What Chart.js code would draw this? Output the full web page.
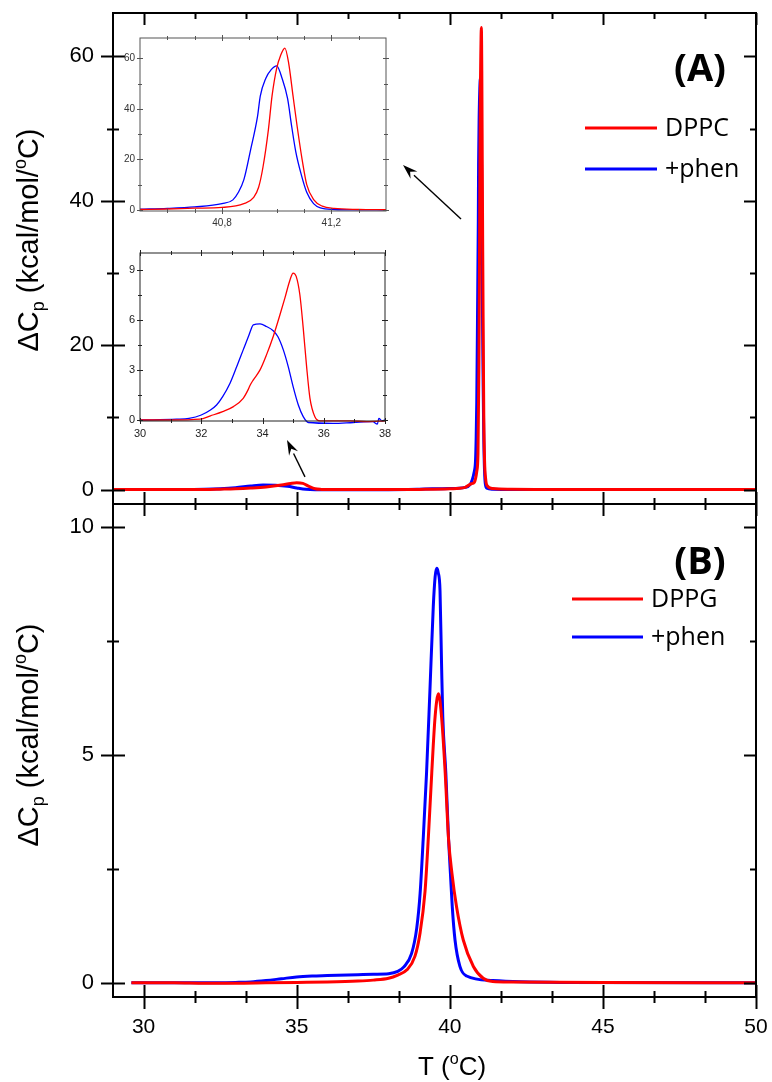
<!DOCTYPE html>
<html><head><meta charset="utf-8">
<script src="https://cdn.jsdelivr.net/npm/chart.js@4.4.1/dist/chart.umd.min.js"></script>
<style>
html,body{margin:0;padding:0;background:#fff;overflow:hidden}
#wrap{position:relative;width:772px;height:1082px;background:#fff}
canvas{position:absolute;display:block}
</style></head><body>
<div id="wrap">
<canvas id="cB" style="left:0;top:480px;width:772px;height:602px" width="772" height="602"></canvas>
<canvas id="cA" style="left:0;top:0;width:772px;height:530px" width="772" height="530"></canvas>
<canvas id="cI1" style="left:100px;top:25px;width:300px;height:210px" width="300" height="210"></canvas>
<canvas id="cI2" style="left:100px;top:240px;width:300px;height:205px" width="300" height="205"></canvas>
</div>
<script>
// ---------- DATA ----------
// Panel A (DPPC)
const aRedT  = [29.0,30,31,32,32.5,33,33.5,34,34.5,34.8,35.0,35.2,35.4,35.6,35.8,36,37,38,39,40,40.5,40.7,40.8,40.88,40.92,40.95,40.97,40.985,41.0,41.015,41.03,41.045,41.06,41.075,41.093,41.11,41.135,41.17,41.21,41.4,42,43,45,50];
const aRedCp = [0,0,0,0.01,0.05,0.1,0.2,0.35,0.62,0.85,0.95,0.85,0.45,0.12,0.02,0,0,0,0.02,0.1,0.3,0.8,1,2.5,5,17,32,45,56,61,64,58,45,33,20,10,4,1.5,0.6,0.15,0.05,0.02,0,0];
const aBlueT  = [29.55,31,31.5,32,32.5,33,33.5,33.9,34.3,34.7,35.0,35.3,35.6,36,38,39,40,40.5,40.8,40.84,40.86,40.88,40.905,40.93,40.94,40.96,40.98,41.0,41.02,41.04,41.055,41.07,41.09,41.11,41.135,41.16,41.21,41.4,42,50];
const aBlueCp = [0,0,0.01,0.03,0.1,0.25,0.5,0.64,0.6,0.45,0.22,0.03,-0.02,-0.02,-0.01,0.05,0.15,0.3,2.5,4,7,12,24,37,45,52,55.5,57,52,44,33,23,14,7,2.5,0.8,0.2,0.05,0,0];
// Inset 1 (main transition)
const i1RedT  = [40.5,40.6,40.7,40.8,40.88,40.916,40.934,40.95,40.97,40.983,41.0,41.014,41.03,41.044,41.06,41.075,41.093,41.11,41.136,41.167,41.21,41.3,41.4];
const i1RedCp = [0.2,0.4,0.7,1,2.5,5,9,17,32,45,56,61,64,58,45,33,20,10,4,1.5,0.6,0.2,0.1];
const i1BlueT  = [40.5,40.6,40.7,40.8,40.84,40.86,40.88,40.905,40.93,40.94,40.96,40.98,41.0,41.02,41.04,41.055,41.07,41.09,41.11,41.135,41.16,41.21,41.3,41.4];
const i1BlueCp = [0.3,0.6,1.2,2.5,4,7,12,24,37,45,52,55.5,57,52,44,33,23,14,7,2.5,0.8,0.2,0.05,0];
// Inset 2 (pretransition)
const i2RedT  = [30,31,31.96,32.3,32.7,33.05,33.37,33.54,33.6,33.7,33.92,34.13,34.35,34.57,34.73,34.9,35.0,35.1,35.22,35.33,35.44,35.55,35.71,35.88,36.86,37.4,38];
const i2RedCp = [0,0,0.05,0.25,0.5,0.8,1.3,1.85,2.1,2.4,3.0,3.9,5.0,6.3,7.3,8.4,8.8,8.6,7.5,5.5,3.2,1.3,0.2,-0.05,-0.05,-0.1,-0.05];
const i2BlueT  = [30,31.2,31.6,32.0,32.3,32.5,32.7,32.94,33.16,33.37,33.54,33.6,33.7,33.92,34.13,34.35,34.5,34.68,34.84,35.0,35.17,35.33,35.5,36.3,36.96,37.6,37.75,37.8,37.9,38];
const i2BlueCp = [0,0.05,0.1,0.3,0.6,0.9,1.4,2.2,3.2,4.2,5.0,5.3,5.7,5.75,5.6,5.35,5.0,4.2,3.2,2.0,0.9,0.2,-0.15,-0.2,-0.15,-0.1,-0.25,0.1,-0.05,0];
// Panel B (DPPG)
const bRedT  = [29.6,31,32,33,34,35,36,37,37.5,38,38.3,38.59,38.86,39.03,39.19,39.3,39.41,39.52,39.63,39.73,39.85,39.96,40.07,40.22,40.44,40.77,41.09,41.4,42,45,50];
const bRedCp = [0,0,-0.01,-0.01,0,0.01,0.02,0.04,0.06,0.1,0.17,0.28,0.58,1.1,2.0,3.2,4.6,5.84,6.34,5.84,4.6,3.14,2.4,1.67,0.94,0.36,0.1,0.03,0.02,0.01,0];
const bBlueT  = [29.6,31,32,33,33.5,34,34.5,35,35.5,36,37,37.5,38,38.3,38.5,38.75,38.92,39.03,39.13,39.24,39.35,39.46,39.52,39.57,39.62,39.68,39.73,39.77,39.87,39.96,40.02,40.08,40.17,40.33,40.55,41.4,43.6,50];
const bBlueCp = [0,0,0,0.01,0.02,0.05,0.09,0.13,0.15,0.16,0.18,0.19,0.2,0.25,0.35,0.64,1.2,1.96,3.14,4.6,6.4,8.25,8.9,9.09,9.0,8.6,7.0,5.84,4.6,3.14,2.4,1.67,0.94,0.36,0.15,0.05,0.01,0];

// Tick values / labels
const mainXMajor = [30,35,40,45,50];
const mainXMinor = [31.667,33.333,36.667,38.333,41.667,43.333,46.667,48.333];
const mainXLabels = ['30','35','40','45','50'];
const aYMajor = [0,20,40,60];
const aYMinor = [10,30,50];
const aYLabels = ['0','20','40','60'];
const bYMajor = [0,5,10];
const bYMinor = [2.5,7.5];
const bYLabels = ['0','5','10'];
const i1XMajor = [40.8,41.2];
const i1XMinor = [40.6,40.7,40.9,41.0,41.1,41.3];
const i1XLabels = ['40,8','41,2'];
const i1YMajor = [0,20,40,60];
const i1YMinor = [10,30,50];
const i1YLabels = ['0','20','40','60'];
const i2XMajor = [30,32,34,36,38];
const i2XMinor = [31,33,35,37];
const i2XLabels = ['30','32','34','36','38'];
const i2YMajor = [0,3,6,9];
const i2YMinor = [1.5,4.5,7.5];
const i2YLabels = ['0','3','6','9'];

const seriesA = ['DPPC','+phen'];
const seriesB = ['DPPG','+phen'];

// ---------- STYLE / HELPERS ----------
const SANS = "'Liberation Sans', Arial, sans-serif";
const OPEN = "'Open Sans', 'Liberation Sans', sans-serif";
const RED = '#ff0000', BLUE = '#0000ff';
Chart.defaults.font.family = SANS;
Chart.defaults.color = '#000';
Chart.defaults.animation = false;

function ds(label, xs, ys, color, w){
  return {label, data: xs.map((x,i)=>({x, y: ys[i]})), borderColor: color, backgroundColor: color,
    borderWidth: w, pointRadius: 0, fill: false, cubicInterpolationMode: 'monotone', clip: false};
}
function noPad(s){ s.paddingTop = 0; s.paddingBottom = 0; s.paddingLeft = 0; s.paddingRight = 0; }
function xAxis(min,max,show,ticks,labels,size,color,h,pad){
  return {type:'linear', min, max, display: show,
    afterFit: s=>{ s.height = h; noPad(s); },
    afterBuildTicks: s=>{ s.ticks = ticks.map(v=>({value:v})); },
    grid:{display:false, drawTicks:false}, border:{display:false},
    ticks:{autoSkip:false, maxRotation:0, padding:pad, color, font:{size}, callback:(v,i)=>labels[i]}};
}
function yAxis(min,max,ticks,labels,size,color,w,pad){
  return {type:'linear', min, max,
    afterFit: s=>{ s.width = w; noPad(s); },
    afterBuildTicks: s=>{ s.ticks = ticks.map(v=>({value:v})); },
    grid:{display:false, drawTicks:false}, border:{display:false},
    ticks:{autoSkip:false, padding:pad, color, font:{size}, callback:(v,i)=>labels[i]}};
}

const framePlugin = {
  id: 'frame',
  afterDatasetsDraw(chart, args, o){
    const {ctx, chartArea:a} = chart; const xs = chart.scales.x, ys = chart.scales.y;
    ctx.save();
    ctx.strokeStyle = o.color; ctx.lineCap = 'butt';
    const seg=(x1,y1,x2,y2)=>{ctx.beginPath();ctx.moveTo(x1,y1);ctx.lineTo(x2,y2);ctx.stroke();};
    const S = o.sides;
    const doX=(vals,len)=>vals.forEach(v=>{const p=Math.round(xs.getPixelForValue(v))+0.5;
      if(p<a.left-1||p>a.right+1) return;
      if(S.bottom) seg(p, a.bottom - S.bottom[0]*len, p, a.bottom + S.bottom[1]*len);
      if(S.top) seg(p, a.top + S.top[0]*len, p, a.top - S.top[1]*len);});
    const doY=(vals,len)=>vals.forEach(v=>{const p=Math.round(ys.getPixelForValue(v))+0.5;
      if(S.left) seg(a.left + S.left[0]*len, p, a.left - S.left[1]*len, p);
      if(S.right) seg(a.right - S.right[0]*len, p, a.right + S.right[1]*len, p);});
    ctx.lineWidth = o.tickWidth;
    doX(o.xMajor,o.major); doX(o.xMinor,o.minor); doY(o.yMajor,o.major); doY(o.yMinor,o.minor);
    ctx.lineWidth = o.frameWidth;
    ctx.strokeRect(a.left, a.top, a.right-a.left, a.bottom-a.top);
    ctx.restore();
  }
};

function richWidth(ctx, parts, size, fam){
  let w = 0;
  parts.forEach(p=>{ const s = (p.sub||p.sup)? size*0.62 : size; ctx.font = s+'px '+fam; w += ctx.measureText(p.t).width; });
  return w;
}
function drawRich(ctx, parts, size, fam, x0, y0){
  let x = x0;
  parts.forEach(p=>{
    const s = (p.sub||p.sup)? size*0.62 : size;
    const dy = p.sub ? size*0.2 : (p.sup ? -size*0.42 : 0);
    ctx.font = s+'px '+fam; ctx.fillText(p.t, x, y0+dy); x += ctx.measureText(p.t).width;
  });
}
const yTitleParts = [{t:'\u0394C'},{t:'p',sub:true},{t:' (kcal/mol/'},{t:'o',sup:true},{t:'C)'}];
const xTitleParts = [{t:'T ('},{t:'o',sup:true},{t:'C)'}];

const annotPlugin = {
  id: 'annot',
  afterDraw(chart, args, o){
    const ctx = chart.ctx; const oy = o.offY || 0;
    ctx.save(); ctx.fillStyle = '#000'; ctx.textBaseline = 'alphabetic'; ctx.textAlign = 'left';
    if (o.yTitle){
      const w = richWidth(ctx, yTitleParts, o.yTitle.size, SANS);
      ctx.save(); ctx.translate(o.yTitle.x, o.yTitle.y - oy); ctx.rotate(-Math.PI/2);
      drawRich(ctx, yTitleParts, o.yTitle.size, SANS, -w/2, 0); ctx.restore();
    }
    if (o.xTitle){
      const w = richWidth(ctx, xTitleParts, o.xTitle.size, SANS);
      drawRich(ctx, xTitleParts, o.xTitle.size, SANS, o.xTitle.x - w/2, o.xTitle.y - oy);
    }
    if (o.legend){
      const L = o.legend;
      L.rows.forEach(r=>{
        const d = chart.data.datasets[r.i];
        ctx.strokeStyle = d.borderColor; ctx.lineWidth = 3;
        ctx.beginPath(); ctx.moveTo(L.x0, r.y - oy); ctx.lineTo(L.x1, r.y - oy); ctx.stroke();
        ctx.fillStyle = '#000'; ctx.font = L.size+'px '+OPEN; ctx.textBaseline = 'middle';
        ctx.fillText(d.label, L.tx, r.y - oy + 1);
      });
    }
    if (o.label){
      ctx.fillStyle = '#000'; ctx.font = 'bold '+o.label.size+'px '+OPEN; ctx.textAlign = 'center'; ctx.textBaseline = 'middle';
      ctx.fillText(o.label.text, o.label.x, o.label.y - oy);
    }
    if (o.arrows){
      const xs = chart.scales.x, ys = chart.scales.y;
      o.arrows.forEach(ar=>{
        const x1 = xs.getPixelForValue(ar.from[0]), y1 = ys.getPixelForValue(ar.from[1]);
        const x2 = xs.getPixelForValue(ar.to[0]), y2 = ys.getPixelForValue(ar.to[1]);
        const ang = Math.atan2(y2-y1, x2-x1), hl = 15, hw = 5;
        const bx = x2 - hl*Math.cos(ang), by = y2 - hl*Math.sin(ang);
        ctx.strokeStyle = '#000'; ctx.lineWidth = 1.4;
        ctx.beginPath(); ctx.moveTo(x1,y1); ctx.lineTo(bx,by); ctx.stroke();
        ctx.fillStyle = '#000'; ctx.beginPath(); ctx.moveTo(x2,y2);
        ctx.lineTo(bx + hw*Math.sin(ang), by - hw*Math.cos(ang));
        ctx.lineTo(bx + 0.35*hl*Math.cos(ang), by + 0.35*hl*Math.sin(ang));
        ctx.lineTo(bx - hw*Math.sin(ang), by + hw*Math.cos(ang));
        ctx.closePath(); ctx.fill();
      });
    }
    ctx.restore();
  }
};

function makeChart(id, datasets, scales, padding, frame, annot){
  return new Chart(document.getElementById(id), {
    type: 'line',
    data: { datasets },
    options: { responsive:false, devicePixelRatio:1, animation:false, parsing:false,
      layout:{padding}, scales,
      plugins:{ legend:{display:false}, tooltip:{enabled:false}, frame, annot: annot||{} } },
    plugins: [framePlugin, annotPlugin]
  });
}

// ---------- Panel A ----------
makeChart('cA',
  [ds(seriesA[0], aRedT, aRedCp, RED, 3), ds(seriesA[1], aBlueT, aBlueCp, BLUE, 3)],
  { x: xAxis(29,50,false,mainXMajor,mainXLabels,21,'#000',0,0),
    y: yAxis(-2,66,aYMajor,aYLabels,22,'#000',113,19) },
  {left:0, top:13, right:16, bottom:26},
  {color:'#000', frameWidth:2, tickWidth:2, major:12, minor:6,
   xMajor:mainXMajor, xMinor:mainXMinor, yMajor:aYMajor, yMinor:aYMinor,
   sides:{bottom:[1,1], top:[1,0], left:[1,1], right:[1,0]}},
  { yTitle:{x:38, y:240, size:29},
    legend:{x0:585, x1:657, tx:665, size:25, rows:[{i:0,y:128},{i:1,y:169}]},
    label:{text:'(A)', x:700, y:70, size:38},
    arrows:[{from:[40.366,37.48], to:[38.471,44.95]}, {from:[35.27,1.75], to:[34.683,6.87]}] }
);

// ---------- Panel B ----------
makeChart('cB',
  [ds(seriesB[0], bRedT, bRedCp, RED, 3), ds(seriesB[1], bBlueT, bBlueCp, BLUE, 3)],
  { x: xAxis(29,50,true,mainXMajor,mainXLabels,21,'#000',85,18),
    y: yAxis(-0.31,10.5,bYMajor,bYLabels,22,'#000',113,19) },
  {left:0, top:24, right:16, bottom:0},
  {color:'#000', frameWidth:2, tickWidth:2, major:12, minor:6,
   xMajor:mainXMajor, xMinor:mainXMinor, yMajor:bYMajor, yMinor:bYMinor,
   sides:{bottom:[1,1], top:null, left:[1,1], right:[1,0]}},
  { offY:480, yTitle:{x:38, y:735, size:29}, xTitle:{x:452, y:1075, size:26},
    legend:{x0:572, x1:643, tx:651, size:25, rows:[{i:0,y:599},{i:1,y:637}]},
    label:{text:'(B)', x:700, y:563, size:38} }
);

// ---------- Inset 1 ----------
makeChart('cI1',
  [ds(seriesA[0], i1RedT, i1RedCp, RED, 1.3), ds(seriesA[1], i1BlueT, i1BlueCp, BLUE, 1.3)],
  { x: xAxis(40.5,41.4,true,i1XMajor,i1XLabels,10,'#333',24,6),
    y: yAxis(-0.4,68,i1YMajor,i1YLabels,10,'#333',40,5) },
  {left:0, top:13, right:14, bottom:0},
  {color:'#555', frameWidth:1, tickWidth:1, major:3, minor:2,
   xMajor:i1XMajor, xMinor:i1XMinor, yMajor:i1YMajor, yMinor:i1YMinor,
   sides:{bottom:[1,1], top:[1,1], left:[1,1], right:[1,1]}}
);

// ---------- Inset 2 ----------
makeChart('cI2',
  [ds(seriesA[0], i2RedT, i2RedCp, RED, 1.3), ds(seriesA[1], i2BlueT, i2BlueCp, BLUE, 1.3)],
  { x: xAxis(30,38,true,i2XMajor,i2XLabels,11,'#222',24,6),
    y: yAxis(-0.06,10,i2YMajor,i2YLabels,11,'#222',40,5) },
  {left:0, top:13, right:15, bottom:0},
  {color:'#222', frameWidth:1, tickWidth:1, major:3, minor:2,
   xMajor:i2XMajor, xMinor:i2XMinor, yMajor:i2YMajor, yMinor:i2YMinor,
   sides:{bottom:[1,1], top:[1,1], left:[1,1], right:[1,1]}}
);
</script>
</body></html>
